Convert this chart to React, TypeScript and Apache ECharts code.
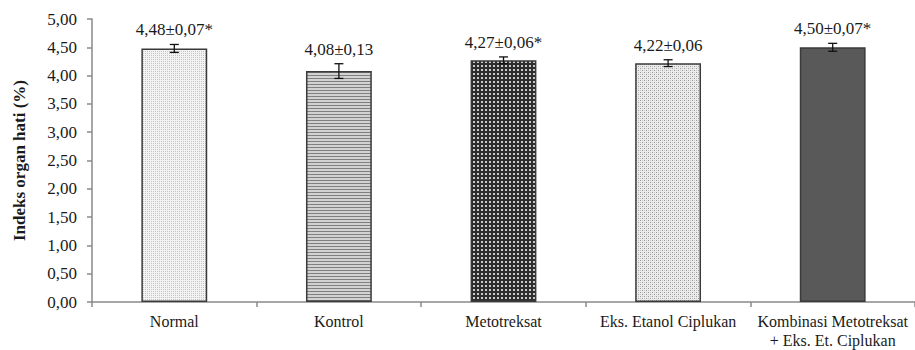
import React, { useEffect, useRef } from "react";
import * as echarts from "echarts";

const categories = [
  "Normal",
  "Kontrol",
  "Metotreksat",
  "Eks. Etanol Ciplukan",
  "Kombinasi Metotreksat\n+ Eks. Et. Ciplukan",
];
const means = [4.48, 4.08, 4.27, 4.22, 4.5];
const errors = [0.07, 0.13, 0.06, 0.06, 0.07];
const significant = [true, false, true, false, true];
const yTicks = { min: 0, max: 5, interval: 0.5 };

const FONT = "Times New Roman, Liberation Serif, serif";

function makeTile(w: number, h: number, bg: string, dots: [number, number, number, number, string][]) {
  const c = document.createElement("canvas");
  c.width = w;
  c.height = h;
  const ctx = c.getContext("2d")!;
  ctx.fillStyle = bg;
  ctx.fillRect(0, 0, w, h);
  dots.forEach(([x, y, dw, dh, col]) => {
    ctx.fillStyle = col;
    ctx.fillRect(x, y, dw, dh);
  });
  return { image: c.toDataURL(), repeat: "repeat", imageWidth: w, imageHeight: h } as any;
}

const fmt = (v: number) => v.toFixed(2).replace(".", ",");

export default function App() {
  const ref = useRef<HTMLDivElement>(null);
  useEffect(() => {
    if (!ref.current) return;
    const chart = echarts.init(ref.current, undefined, { renderer: "svg" });

    const fills = [
      makeTile(2, 2, "#f3f3f3", [[1, 1, 1, 1, "#c4c4c4"]]),
      makeTile(1, 3, "#d2d2d2", [[0, 0, 1, 1, "#808080"]]),
      makeTile(4, 4, "#2e2e2e", [[1, 1, 2, 2, "#cccccc"]]),
      makeTile(4, 4, "#ececec", [
        [0, 0, 1, 1, "#9a9a9a"],
        [2, 2, 1, 1, "#9a9a9a"],
        [2, 0, 1, 1, "#c8c8c8"],
        [0, 2, 1, 1, "#c8c8c8"],
      ]),
      "#595959",
    ];

    const barData = means.map((v, i) => ({
      value: v,
      itemStyle: { color: fills[i] },
    }));
    const errData = means.map((v, i) => [i, v, errors[i], significant[i] ? 1 : 0]);

    chart.setOption({
      animation: false,
      textStyle: { fontFamily: FONT },
      grid: { left: 92, right: 0, top: 19, bottom: 48, containLabel: false },
      xAxis: {
        type: "category",
        data: categories,
        axisLine: { show: true, lineStyle: { color: "#8a8a8a", width: 1.5 } },
        axisTick: { show: true, length: 5, lineStyle: { color: "#8a8a8a", width: 1.5 } },
        axisLabel: {
          interval: 0,
          margin: 10,
          fontFamily: FONT,
          fontSize: 16,
          color: "#1a1a1a",
          lineHeight: 19,
        },
      },
      yAxis: {
        type: "value",
        min: yTicks.min,
        max: yTicks.max,
        interval: yTicks.interval,
        name: "Indeks organ hati (%)",
        nameLocation: "middle",
        nameGap: 64,
        nameTextStyle: {
          fontFamily: FONT,
          fontSize: 17,
          fontWeight: "bold",
          color: "#1a1a1a",
        },
        axisLine: { show: true, lineStyle: { color: "#8a8a8a", width: 1.5 } },
        axisTick: { show: true, length: 5, lineStyle: { color: "#8a8a8a", width: 1.5 } },
        splitLine: { show: false },
        axisLabel: {
          margin: 15,
          fontFamily: FONT,
          fontSize: 17,
          color: "#1a1a1a",
          formatter: (v: number) => fmt(v),
        },
      },
      series: [
        {
          type: "bar",
          data: barData,
          barWidth: "40%",
          itemStyle: { borderColor: "#3a3a3a", borderWidth: 1.5 },
        },
        {
          type: "custom",
          data: errData,
          z: 10,
          renderItem: (params: any, api: any) => {
            const x = api.value(0);
            const v = api.value(1);
            const e = api.value(2);
            const sig = api.value(3);
            const top = api.coord([x, v + e]);
            const bot = api.coord([x, v - e]);
            const cw = 4.5;
            const st = { stroke: "#111", lineWidth: 1.3 };
            return {
              type: "group",
              children: [
                { type: "line", shape: { x1: top[0], y1: top[1], x2: bot[0], y2: bot[1] }, style: st },
                { type: "line", shape: { x1: top[0] - cw, y1: top[1], x2: top[0] + cw, y2: top[1] }, style: st },
                { type: "line", shape: { x1: bot[0] - cw, y1: bot[1], x2: bot[0] + cw, y2: bot[1] }, style: st },
                {
                  type: "text",
                  x: top[0],
                  y: top[1] - 6,
                  style: {
                    text: `${fmt(v)}±${fmt(e)}${sig ? "*" : ""}`,
                    align: "center",
                    verticalAlign: "bottom",
                    fontFamily: FONT,
                    fontSize: 17,
                    fill: "#1a1a1a",
                  },
                },
              ],
            };
          },
        },
      ],
    });
    return () => chart.dispose();
  }, []);
  return (
    <div
      ref={ref}
      style={{ position: "fixed", left: 0, top: 0, width: 915, height: 350, background: "#fff" }}
    />
  );
}
